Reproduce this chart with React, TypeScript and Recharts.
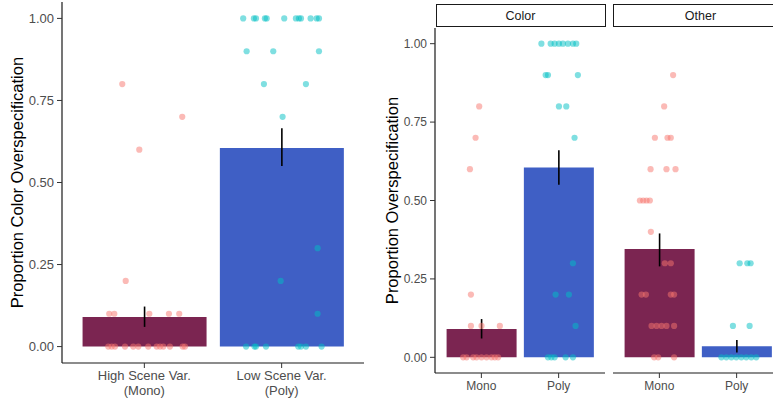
import React from 'react';
import { ComposedChart, Bar, Scatter, XAxis, YAxis, ErrorBar, Cell } from 'recharts';

// ---------- data ----------
const leftCategories = ['High Scene Var.\n(Mono)', 'Low Scene Var.\n(Poly)'];
const leftMeans = [0.09, 0.605];
const leftErr = [[0.03, 0.032], [0.055, 0.06]];

const facetCategories = ['Mono', 'Poly'];
const colorMeans = [0.09, 0.605];
const colorErr = [[0.03, 0.032], [0.055, 0.055]];
const otherMeans = [0.345, 0.035];
const otherErr = [[0.055, 0.05], [0.02, 0.02]];

const yTicks = [0, 0.25, 0.5, 0.75, 1];

// jittered observations: [horizontal offset from category centre, value]
const leftMonoPts = [
  [-0.161, 0.8], [0.276, 0.7], [-0.037, 0.6], [-0.136, 0.2],
  [-0.256, 0.1], [-0.219, 0.1], [0.036, 0.1], [0.179, 0.1], [0.254, 0.1],
  [-0.263, 0], [-0.238, 0], [-0.214, 0], [-0.141, 0], [-0.081, 0], [-0.044, 0], [0.028, 0],
  [0.09, 0], [0.114, 0], [0.138, 0], [0.186, 0], [0.279, 0], [0.296, 0],
];
const leftPolyPts = [
  [-0.28, 1], [-0.202, 1], [-0.187, 1], [-0.122, 1], [-0.109, 1], [0.019, 1], [0.104, 1],
  [0.126, 1], [0.141, 1], [0.211, 1], [0.255, 1], [0.272, 1],
  [-0.255, 0.9], [-0.061, 0.9], [0.272, 0.9],
  [-0.129, 0.8], [0.177, 0.8], [0.007, 0.7],
  [0.262, 0.3], [-0.007, 0.2], [0.262, 0.1],
  [-0.259, 0], [-0.198, 0], [-0.187, 0], [-0.114, 0], [0.121, 0], [0.141, 0], [0.177, 0], [0.291, 0],
];
const colorMonoPts = [
  [-0.028, 0.8], [-0.075, 0.7], [-0.148, 0.6], [-0.135, 0.2],
  [-0.135, 0.1], [0.002, 0.1], [0.239, 0.1],
  [-0.235, 0], [-0.191, 0], [-0.106, 0], [-0.062, 0], [0.002, 0], [0.067, 0], [0.131, 0], [0.174, 0], [0.217, 0],
];
const colorPolyPts = [
  [-0.223, 1], [-0.103, 1], [-0.052, 1], [0.004, 1], [0.055, 1], [0.12, 1], [0.185, 1], [0.228, 1],
  [-0.168, 0.9], [-0.138, 0.9], [0.249, 0.9],
  [0.004, 0.8], [0.099, 0.8], [0.206, 0.7],
  [0.185, 0.3], [-0.039, 0.2], [0.133, 0.2], [0.219, 0.1],
  [-0.138, 0], [-0.094, 0], [-0.052, 0], [0.09, 0], [0.185, 0],
];
const otherMonoPts = [
  [0.178, 0.9], [0.062, 0.8],
  [-0.058, 0.7], [0.105, 0.7], [0.148, 0.7],
  [-0.114, 0.6], [0.092, 0.6], [0.209, 0.6],
  [-0.252, 0.5], [-0.209, 0.5], [-0.166, 0.5], [-0.123, 0.5],
  [-0.11, 0.4], [0.071, 0.3], [0.148, 0.3],
  [-0.23, 0.2], [-0.174, 0.2], [0.148, 0.2], [0.191, 0.2],
  [-0.101, 0.1], [-0.036, 0.1], [0.028, 0.1], [0.092, 0.1], [0.191, 0.1],
  [-0.067, 0], [-0.015, 0], [0.191, 0],
];
const otherPolyPts = [
  [0.039, 0.3], [0.138, 0.3], [0.181, 0.3],
  [-0.048, 0.1], [0.168, 0.1],
  [-0.197, 0], [-0.133, 0], [-0.068, 0], [-0.004, 0], [0.061, 0], [0.125, 0], [0.19, 0], [0.254, 0],
];

// ---------- styles ----------
const FONT = '"Liberation Sans", Arial, Helvetica, sans-serif';
const BAR_COLORS = ['#7B2551', '#3F5FC5'];
const PT_COLORS = ['#F8766D', '#00BFC4'];
const AXIS = '#1a1a1a';
const TICK_TEXT = '#4D4D4D';

function buildBars(cats: string[], means: number[], errs: number[][]) {
  return cats.map((c, i) => ({ cat: c, v: means[i], err: errs[i], idx: i }));
}
function buildPts(groups: number[][][]) {
  const out: { x: number; y: number; g: number }[] = [];
  groups.forEach((g, gi) => g.forEach(([dx, y]) => out.push({ x: gi + 1 + dx, y, g: gi })));
  return out;
}

const Dot = (props: any) => {
  const { cx, cy, payload } = props;
  if (cx == null || cy == null) return null;
  return <circle cx={cx} cy={cy} r={3.1} fill={PT_COLORS[payload.g]} fillOpacity={0.5} />;
};

const TwoLineTick = (props: any) => {
  const { x, y, payload, fontSize } = props;
  const lines = String(payload.value).split('\n');
  return (
    <text x={x} y={y} textAnchor="middle" fill={TICK_TEXT} fontSize={fontSize} fontFamily={FONT}>
      {lines.map((l, i) => (
        <tspan key={i} x={x} dy={i === 0 ? '0.72em' : '1.12em'}>{l}</tspan>
      ))}
    </text>
  );
};

const YTitle = (props: any) => {
  const { viewBox, title, tx, fs } = props;
  const cy = viewBox.y + viewBox.height / 2;
  return (
    <text x={tx} y={cy} transform={`rotate(-90, ${tx}, ${cy})`} textAnchor="middle"
      dominantBaseline="central" fontSize={fs} fontFamily={FONT} fill="#000">{title}</text>
  );
};

type PanelProps = {
  width: number; height: number; margin: any; yWidth: number; xHeight: number;
  cats: string[]; means: number[]; errs: number[][]; pts: number[][][];
  showY: boolean; yTitle?: string; titleX?: number; titleSize?: number;
  tickSize: number; pad: number; twoLine?: boolean;
};

function Panel(p: PanelProps) {
  const bars = buildBars(p.cats, p.means, p.errs);
  const points = buildPts(p.pts);
  return (
    <ComposedChart width={p.width} height={p.height} data={bars} margin={p.margin} barCategoryGap="5%">
      <XAxis dataKey="cat" type="category" height={p.xHeight} padding={{ left: p.pad, right: p.pad }}
        axisLine={{ stroke: AXIS, strokeWidth: 1.2 }} tickLine={{ stroke: '#333' }} tickSize={5} tickMargin={3}
        interval={0}
        tick={p.twoLine ? <TwoLineTick fontSize={p.tickSize} /> : { fill: TICK_TEXT, fontSize: p.tickSize, fontFamily: FONT }} />
      <XAxis xAxisId="j" dataKey="x" type="number" domain={[0.4, 2.6]} allowDataOverflow hide />
      <YAxis type="number" domain={[-0.05, 1.05]} allowDataOverflow ticks={yTicks} hide={!p.showY}
        width={p.yWidth} tickFormatter={(v: number) => v.toFixed(2)}
        axisLine={{ stroke: AXIS, strokeWidth: 1.2 }} tickLine={{ stroke: '#333' }} tickSize={5} tickMargin={3}
        tick={{ fill: TICK_TEXT, fontSize: p.tickSize, fontFamily: FONT }}
        label={p.showY ? <YTitle title={p.yTitle} tx={p.titleX} fs={p.titleSize} /> : undefined} />
      <Bar dataKey="v" isAnimationActive={false}>
        {bars.map((b, i) => <Cell key={i} fill={BAR_COLORS[i]} />)}
        <ErrorBar dataKey="err" width={0} stroke="#000" strokeWidth={1.6} direction="y" />
      </Bar>
      <Scatter data={points} xAxisId="j" dataKey="y" shape={<Dot />} isAnimationActive={false} />
    </ComposedChart>
  );
}

const stripStyle: React.CSSProperties = {
  position: 'absolute', top: 4, height: 23, boxSizing: 'border-box',
  border: '1.3px solid #1a1a1a', background: '#fff', fontFamily: FONT, fontSize: 12.5,
  color: '#1a1a1a', display: 'flex', alignItems: 'center', justifyContent: 'center',
};

export default function App() {
  return (
    <div style={{ position: 'absolute', left: 0, top: 0, width: 773, height: 398, overflow: 'hidden', background: '#fff' }}>
      <div style={{ position: 'absolute', left: 0, top: 0 }}>
        <Panel width={380} height={398} margin={{ top: 2, right: 16, bottom: 0, left: 0 }}
          yWidth={62} xHeight={35} cats={leftCategories} means={leftMeans} errs={leftErr}
          pts={[leftMonoPts, leftPolyPts]} showY yTitle="Proportion Color Overspecification"
          titleX={17} titleSize={16.5} tickSize={13} pad={13.7} twoLine />
      </div>
      <div style={{ position: 'absolute', left: 380, top: 0 }}>
        <Panel width={230} height={398} margin={{ top: 28, right: 5, bottom: 0, left: 0 }}
          yWidth={55} xHeight={25} cats={facetCategories} means={colorMeans} errs={colorErr}
          pts={[colorMonoPts, colorPolyPts]} showY yTitle="Proportion Overspecification"
          titleX={12} titleSize={16.5} tickSize={12} pad={7.73} />
      </div>
      <div style={{ position: 'absolute', left: 613, top: 0 }}>
        <Panel width={175} height={398} margin={{ top: 28, right: 5, bottom: 0, left: 0 }}
          yWidth={0} xHeight={25} cats={facetCategories} means={otherMeans} errs={otherErr}
          pts={[otherMonoPts, otherPolyPts]} showY={false} tickSize={12} pad={7.73} />
      </div>
      <div style={{ ...stripStyle, left: 435.5, width: 170 }}>Color</div>
      <div style={{ ...stripStyle, left: 613, width: 175 }}>Other</div>
    </div>
  );
}
